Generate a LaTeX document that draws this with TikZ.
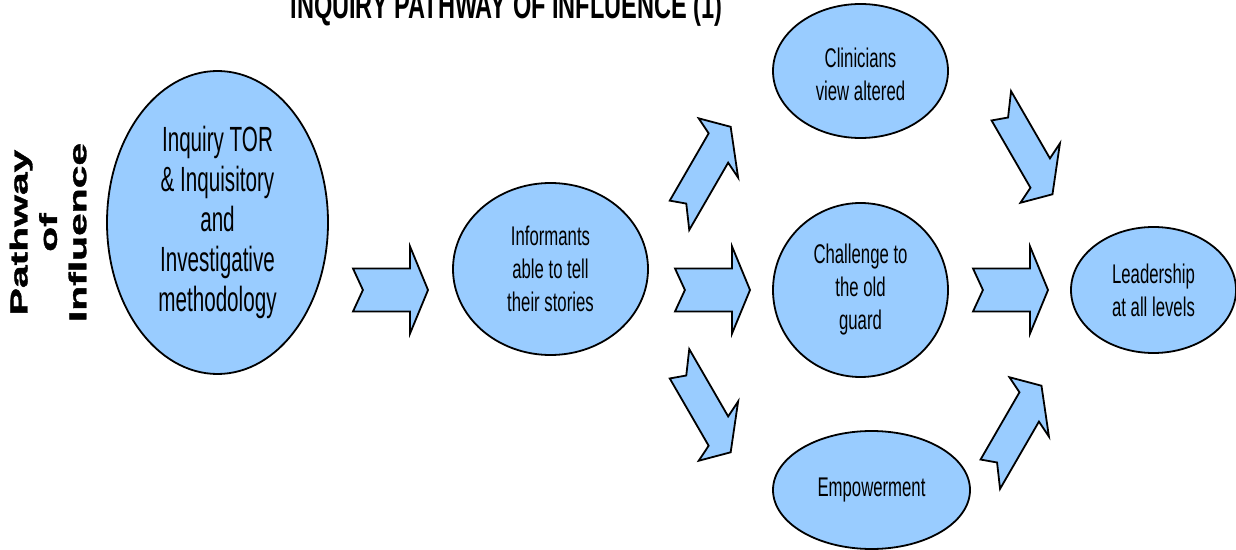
\documentclass[tikz,border=0pt]{standalone}
\usepackage{fontspec}
\setmainfont{Liberation Sans}
\newfontfamily\narrowfont[FakeStretch=0.62]{Liberation Sans}
\newfontfamily\bignarrowfont[FakeStretch=0.59]{Liberation Sans}
\newfontfamily\heavyfont[FakeBold=1.2]{Liberation Sans Bold}
\usetikzlibrary{shapes.geometric}
\definecolor{bubblefill}{RGB}{153,204,255}

\begin{document}
\begin{tikzpicture}[x=0.5pt,y=-0.5pt,
  bubble/.style={ellipse, draw=black, fill=bubblefill, line width=0.9pt,
    inner sep=0pt, align=center, text=black,
    font=\narrowfont\fontsize{13.5}{16.5}\selectfont},
  bigtext/.style={font=\bignarrowfont\fontsize{17.5}{20}\selectfont},
  pics/blockarrow/.style={code={
    \draw[line width=0.9pt, fill=bubblefill, line join=miter]
      (0,-21.5) -- (92,-21.5) -- (92,-43.5) -- (121,0) -- (92,43.5)
      -- (92,21.5) -- (0,21.5) -- (16,0) -- cycle;}}
]
\useasboundingbox (0,0) rectangle (1236,550);
\fill[white] (0,0) rectangle (1236,550);

% title, partly above the top edge
\node[font=\narrowfont\bfseries\fontsize{19}{22}\selectfont, anchor=base]
  (title) at (506.5,19) {INQUIRY PATHWAY OF INFLUENCE (1)};

% side caption
\node[rotate=90, inner sep=0pt] (side) at (51,232.5)
  {\scalebox{1}[0.6]{\heavyfont\fontsize{20.4}{24.5}\selectfont
   \begin{tabular}{@{}c@{}}Pathway\\of\\Influence\end{tabular}}};

% stages
\node[bubble, bigtext, minimum width=110.5pt, minimum height=151.5pt]
  (inquiry) at (217.5,222.5)
  {Inquiry TOR\\\& Inquisitory\\and\\Investigative\\methodology};
\node[bubble, minimum width=97.5pt, minimum height=86pt]
  (informants) at (550.5,269) {Informants\\able to tell\\their stories};
\node[bubble, minimum width=87.5pt, minimum height=67pt]
  (clinicians) at (860.5,71) {\rule{0pt}{13pt}Clinicians\\view altered};
\node[bubble, minimum width=87.5pt, minimum height=87pt]
  (challenge) at (860.5,290) {Challenge to\\the old\\guard};
\node[bubble, minimum width=98.5pt, minimum height=59pt]
  (empower) at (871.5,490) {Empowerment};
\node[bubble, minimum width=82.5pt, minimum height=63pt]
  (leadership) at (1153.5,290) {Leadership\\at all levels};

% block arrows between the stages
\pic[xscale=0.62] at (353,290) {blockarrow};
\pic[xscale=0.62] at (675,290) {blockarrow};
\pic[xscale=0.62] at (973,290) {blockarrow};
\pic[xscale=0.62, rotate=47] at (679.5,215.3) {blockarrow};
\pic[xscale=0.62, rotate=-47] at (679.5,363.8) {blockarrow};
\pic[xscale=0.62, rotate=-47] at (1001.3,105.8) {blockarrow};
\pic[xscale=0.62, rotate=47] at (990.3,474.2) {blockarrow};
\end{tikzpicture}
\end{document}
